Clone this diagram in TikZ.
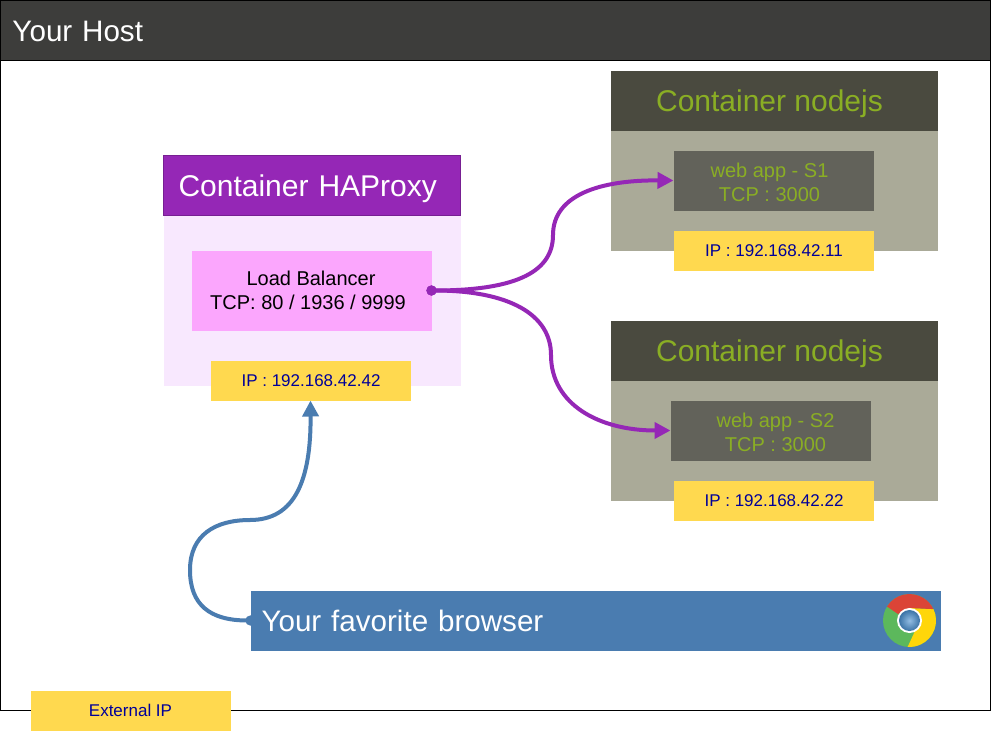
\documentclass[tikz,border=0pt]{standalone}
\usepackage{fontspec}
\setmainfont{Liberation Sans}
\usetikzlibrary{arrows.meta}
\definecolor{hostDark}{HTML}{3D3D3B}
\definecolor{haPurple}{HTML}{9527B6}
\definecolor{haBack}{HTML}{F8E8FE}
\definecolor{lbPink}{HTML}{FBA6FD}
\definecolor{ipYellow}{HTML}{FFD94F}
\definecolor{ipBlue}{HTML}{000099}
\definecolor{nodeDark}{HTML}{4A4A3F}
\definecolor{nodeBack}{HTML}{AAAA98}
\definecolor{appDark}{HTML}{62625A}
\definecolor{nodeGreen}{HTML}{8AAE24}
\definecolor{browserBlue}{HTML}{4A7CB0}
\definecolor{logoRed}{HTML}{DB4437}
\definecolor{logoYellow}{HTML}{FFD60A}
\definecolor{logoGreen}{HTML}{5CB85C}
\definecolor{logoBlue}{HTML}{4A90D0}
\newcommand{\titleFont}{\fontsize{30}{36}\selectfont}
\newcommand{\barFont}{\fontsize{29.6}{36}\selectfont}
\newcommand{\bodyFont}{\fontsize{20}{24}\selectfont}
\newcommand{\ipFont}{\fontsize{17}{20}\selectfont}
\tikzstyle{block}=[anchor=north west, inner sep=0pt, outer sep=0pt]
\tikzstyle{hostBar}=[block, draw=black, fill=hostDark, text=white, minimum width=990pt, minimum height=60pt, text width=966pt, align=left]
\tikzstyle{titleBox}=[block, fill=nodeDark, text=nodeGreen, minimum width=327pt, minimum height=60pt, align=center]
\tikzstyle{backBox}=[block, fill=nodeBack, minimum width=327pt, minimum height=120pt]
\tikzstyle{appBox}=[block, fill=appDark, text=nodeGreen, minimum width=200pt, minimum height=60pt, align=center]
\tikzstyle{ipBox}=[block, fill=ipYellow, text=ipBlue, minimum width=200pt, minimum height=40pt, align=center]
\tikzstyle{lbArrow}=[line width=4pt, haPurple, {Circle[length=10pt]}-{Triangle[length=16pt,width=16pt]}, shorten <=-5pt]
\tikzstyle{webArrow}=[line width=4pt, browserBlue, {Circle[length=10pt]}-{Triangle[length=16pt,width=16pt]}, shorten <=-5pt]
\begin{document}
\begin{tikzpicture}[x=1pt, y=-1pt]
  \useasboundingbox (0,0) rectangle (991,731);
  \node[block, draw=black, fill=white, minimum width=990pt, minimum height=710pt] (host) at (0.5,0.5) {};
  \node[hostBar, font=\barFont] (hostTitle) at (0.5,0.5) {\rule{0pt}{22.5pt}Your Host};

  % haproxy
  \node[block, fill=haBack, minimum width=297pt, minimum height=170pt] (haBack) at (163.5,215.5) {};
  \node[block, draw=haPurple!80!black, fill=haPurple, text=white, minimum width=297pt, minimum height=60pt, text width=267pt, align=left, font=\titleFont] (haTitle) at (163.5,155.5) {\rule{0pt}{28pt}Container HAProxy};
  \node[block, fill=lbPink, minimum width=240pt, minimum height=80pt, align=center, font=\bodyFont] (lb) at (191.5,250.5) {\hspace*{-1pt}Load Balancer\\\hspace*{-7pt}TCP: 80 / 1936 / 9999};
  \node[ipBox, font=\ipFont] (haIp) at (210.5,360.5) {\hspace*{1pt}IP : 192.168.42.42};

  % first nodejs
  \node[backBox] (backA) at (610.5,130.5) {};
  \node[titleBox, font=\titleFont] (titleA) at (610.5,70.5) {\rule{0pt}{29pt}Container nodejs\hspace*{9pt}};
  \node[appBox, font=\bodyFont] (appA) at (673.5,150.5) {\rule{0pt}{18.5pt}web app - S1\hspace*{8pt}\\TCP : 3000\hspace*{8pt}};
  \node[ipBox, font=\ipFont] (ipA) at (673.5,230.5) {\hspace*{1pt}IP : 192.168.42.11};

  % second nodejs
  \node[backBox] (backB) at (610.5,380.5) {};
  \node[titleBox, font=\titleFont] (titleB) at (610.5,320.5) {\rule{0pt}{29pt}Container nodejs\hspace*{9pt}};
  \node[appBox, font=\bodyFont] (appB) at (670.5,400.5) {\rule{0pt}{18.5pt}\hspace*{10pt}web app - S2\\\hspace*{10pt}TCP : 3000};
  \node[ipBox, font=\ipFont] (ipB) at (673.5,480.5) {\hspace*{1pt}IP : 192.168.42.22};

  % browser
  \node[block, fill=browserBlue, text=white, minimum width=690pt, minimum height=60pt, text width=668pt, align=left, font=\barFont] (browser) at (250.5,590.5) {Your favorite browser};
  \node[ipBox, font=\ipFont] (extIp) at (30.5,690.5) {External IP};

  % chrome logo
  \fill[logoGreen] (909.5,620.5) circle (26.5);
  \fill[logoYellow] (933.4,609) arc[start angle=-25.6, end angle=94, radius=26.5] -- (915,631) -- (909.5,620.5) -- (909.5,608) -- cycle;
  \fill[logoRed] (887,606.5) arc[start angle=-148, end angle=-25.6, radius=26.5] -- (909.5,608) -- (898,614) -- cycle;
  \fill[white] (909.5,620.5) circle (12.5);
  \shade[inner color=logoBlue!60!white, outer color=logoBlue!80!black] (909.5,620.5) circle (10.5);

  % connectors
  \draw[lbArrow] (lb.east) .. controls (520,290.5) and (553,270) .. (553,235) .. controls (553,195) and (600,180) .. (appA.west);
  \draw[lbArrow] (lb.east) .. controls (510,290.5) and (551,315) .. (551,355) .. controls (551,405) and (600,430.5) .. (appB.west);
  \draw[webArrow] (browser.west) .. controls (210,620.5) and (190,605) .. (190,570) .. controls (190,535) and (215,520) .. (250,520) .. controls (295,520) and (311,480) .. (haIp.south);
\end{tikzpicture}
\end{document}
